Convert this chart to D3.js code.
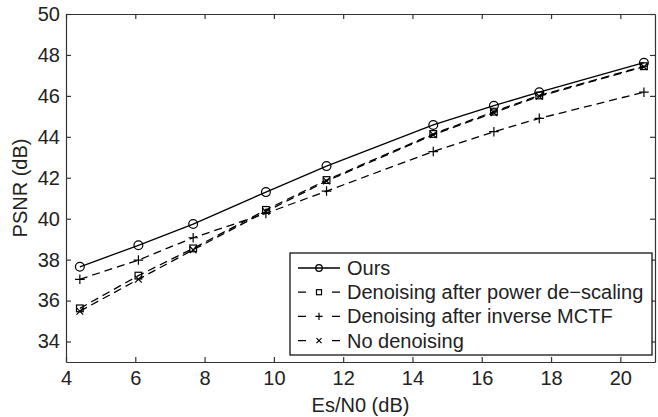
<!DOCTYPE html>
<html>
<head>
<meta charset="utf-8">
<script src="https://cdn.jsdelivr.net/npm/d3@7"></script>
<style>
  body { margin: 0; background: #fff; }
  svg { font-family: "Liberation Sans", Arial, sans-serif; }
  .axis text { font-size: 20px; fill: #222; }
  .axis path, .axis line { stroke: #333; stroke-width: 1.2; }
</style>
</head>
<body>
<svg id="chart" width="658" height="417"></svg>
<script>
// data
const snr = [4.4, 6.09, 7.67, 9.77, 11.52, 14.6, 16.35, 17.66, 20.68]
const ours = [37.65, 38.7, 39.74, 41.3, 42.57, 44.58, 45.52, 46.18, 47.62]
const powerDescaling = [35.62, 37.22, 38.55, 40.43, 41.89, 44.14, 45.23, 46.02, 47.45]
const inverseMctf = [37.04, 37.98, 39.07, 40.26, 41.35, 43.28, 44.25, 44.9, 46.18]
const noDenoising = [35.48, 37.04, 38.48, 40.35, 41.84, 44.1, 45.18, 45.98, 47.42]
const xTicks = [4, 6, 8, 10, 12, 14, 16, 18, 20]
const yTicks = [34, 36, 38, 40, 42, 44, 46, 48, 50]
const seriesNames = ['Ours', 'Denoising after power de\u2212scaling', 'Denoising after inverse MCTF', 'No denoising']

const series = [
  {name: seriesNames[0], values: ours, marker: 'circle', dash: null},
  {name: seriesNames[1], values: powerDescaling, marker: 'square', dash: '8,5'},
  {name: seriesNames[2], values: inverseMctf, marker: 'plus', dash: '8,5'},
  {name: seriesNames[3], values: noDenoising, marker: 'cross', dash: '8,5'}
]

const margin = {left: 66, right: 3, top: 14, bottom: 55}
const w = 658, h = 417

const x = d3.scaleLinear().domain([4, 21]).range([margin.left, w - margin.right])
const y = d3.scaleLinear().domain([33, 50]).range([h - margin.bottom, margin.top])

const svg = d3.select('#chart')

// axes, ticks pointing inward like matlab
svg.append('g').attr('class', 'axis')
  .attr('transform', 'translate(0,' + y(33) + ')')
  .call(d3.axisBottom(x).tickValues(xTicks).tickSize(-5).tickSizeOuter(0).tickPadding(9))
svg.append('g').attr('class', 'axis')
  .attr('transform', 'translate(0,' + y(50) + ')')
  .call(d3.axisTop(x).tickValues(xTicks).tickSize(-5).tickSizeOuter(0).tickFormat(''))
svg.append('g').attr('class', 'axis')
  .attr('transform', 'translate(' + x(4) + ',0)')
  .call(d3.axisLeft(y).tickValues(yTicks).tickSize(-5).tickSizeOuter(0).tickPadding(6))
svg.append('g').attr('class', 'axis')
  .attr('transform', 'translate(' + x(21) + ',0)')
  .call(d3.axisRight(y).tickValues(yTicks).tickSize(-5).tickSizeOuter(0).tickFormat(''))

// axis titles
svg.append('text')
  .attr('x', (x(4) + x(21)) / 2).attr('y', 412)
  .attr('text-anchor', 'middle').attr('font-size', 20).attr('fill', '#222')
  .text('Es/N0 (dB)')
svg.append('text')
  .attr('transform', 'translate(27,' + (y(33) + y(50)) / 2 + ') rotate(-90)')
  .attr('text-anchor', 'middle').attr('font-size', 20).attr('fill', '#222')
  .text('PSNR (dB)')

function drawMarker(g, type, s) {
  if (type === 'circle') {
    g.append('circle').attr('r', s * 0.55).attr('fill', 'none').attr('stroke', '#000').attr('stroke-width', 1.2)
  } else if (type === 'square') {
    g.append('rect').attr('x', -s * 0.42).attr('y', -s * 0.42).attr('width', s * 0.84).attr('height', s * 0.84)
      .attr('fill', 'none').attr('stroke', '#000').attr('stroke-width', 1.2)
  } else if (type === 'plus') {
    g.append('path').attr('d', `M${-s * 0.6},0H${s * 0.6}M0,${-s * 0.6}V${s * 0.6}`)
      .attr('stroke', '#000').attr('stroke-width', 1.2)
  } else {
    const r = s * 0.42
    g.append('path').attr('d', `M${-r},${-r}L${r},${r}M${-r},${r}L${r},${-r}`)
      .attr('stroke', '#000').attr('stroke-width', 1.2)
  }
}

const line = d3.line().x(d => x(d[0])).y(d => y(d[1]))

// lines + markers
series.forEach(s => {
  const pts = snr.map((v, i) => [v, s.values[i]])
  svg.append('path')
    .datum(pts)
    .attr('d', line)
    .attr('fill', 'none')
    .attr('stroke', '#000')
    .attr('stroke-width', 1.3)
    .attr('stroke-dasharray', s.dash)
  svg.append('g').selectAll('g.mk')
    .data(pts)
    .join('g')
    .attr('class', 'mk')
    .attr('transform', d => 'translate(' + x(d[0]) + ',' + y(d[1]) + ')')
    .each(function () { drawMarker(d3.select(this), s.marker, 8) })
})

// legend
const lg = svg.append('g').attr('transform', 'translate(290,253)')
lg.append('rect').attr('width', 362).attr('height', 102)
  .attr('fill', '#fff').attr('stroke', '#000').attr('stroke-width', 1.2)
series.forEach((s, i) => {
  const ry = 15 + i * 24.2
  if (s.dash) {
    lg.append('path').attr('d', `M8,${ry}H16M42,${ry}H50`)
      .attr('stroke', '#000').attr('stroke-width', 1.3)
  } else {
    lg.append('line').attr('x1', 8).attr('x2', 50).attr('y1', ry).attr('y2', ry)
      .attr('stroke', '#000').attr('stroke-width', 1.3)
  }
  const m = lg.append('g').attr('transform', 'translate(29,' + ry + ')')
  drawMarker(m, s.marker, 6)
  lg.append('text').attr('x', 57).attr('y', ry + 7).attr('font-size', 20).attr('fill', '#222').text(s.name)
})
</script>
</body>
</html>
